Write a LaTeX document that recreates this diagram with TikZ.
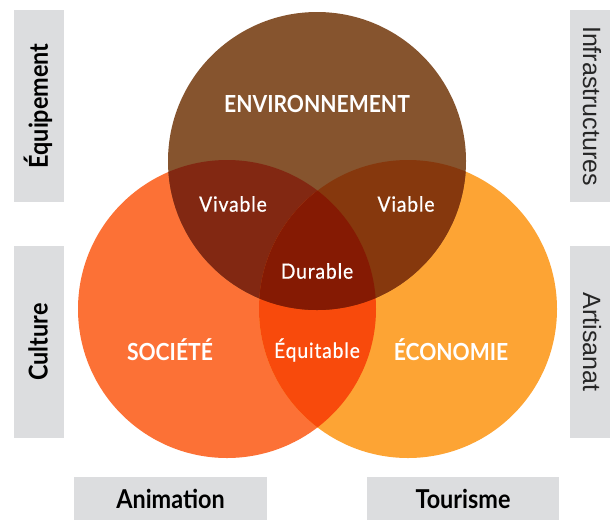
\documentclass[tikz,border=0pt]{standalone}
\usepackage{fontspec}
\setmainfont{Lato}
\newfontfamily\dinfont[FakeStretch=0.90]{Lato}
\newfontfamily\dinsmall[FakeStretch=0.92, LetterSpace=4, FakeBold=0.6]{Lato}
\newfontfamily\arialfont{Liberation Sans}
\definecolor{ctop}{RGB}{134,84,46}
\definecolor{cleft}{RGB}{252,113,54}
\definecolor{cright}{RGB}{253,164,52}
\definecolor{cviv}{RGB}{130,40,18}
\definecolor{cvia}{RGB}{134,56,13}
\definecolor{cequi}{RGB}{248,74,12}
\definecolor{cdur}{RGB}{133,26,3}
\definecolor{cbox}{RGB}{220,221,223}
\tikzset{
  sidebox/.style={fill=cbox, inner sep=0pt},
  bigtxt/.style={text=white, font=\dinfont\bfseries\fontsize{23.5}{26}\selectfont},
  smalltxt/.style={text=white, font=\dinsmall\fontsize{21}{24}\selectfont},
  dinlab/.style={text=black, font=\dinfont\bfseries\fontsize{26}{30}\selectfont},
  ariallab/.style={text=black!85, font=\arialfont\fontsize{25}{30}\selectfont},
}
\begin{document}
\begin{tikzpicture}[x=1pt,y=-1pt]
\useasboundingbox (0,0) rectangle (610,520);
\coordinate (T) at (317,161);
\coordinate (L) at (227,309);
\coordinate (R) at (408,309);
\def\rr{149}
% boxes
\node[sidebox, minimum width=50pt, minimum height=192pt] (bequip) at (39,106) {};
\node[sidebox, minimum width=40pt, minimum height=192pt] (binfra) at (590,106) {};
\node[sidebox, minimum width=50pt, minimum height=192pt] (bcult) at (39,342) {};
\node[sidebox, minimum width=40pt, minimum height=192pt] (bartis) at (590,342) {};
\node[sidebox, minimum width=193pt, minimum height=43pt] (banim) at (170.5,498.5) {};
\node[sidebox, minimum width=192pt, minimum height=43pt] (btour) at (463,498.5) {};
% circles
\fill[cleft] (L) circle (\rr);
\fill[cright] (R) circle (\rr);
\fill[ctop] (T) circle (\rr);
\begin{scope}
  \clip (L) circle (\rr);
  \fill[cviv] (T) circle (\rr);
  \fill[cequi] (R) circle (\rr);
\end{scope}
\begin{scope}
  \clip (T) circle (\rr);
  \fill[cvia] (R) circle (\rr);
\end{scope}
\begin{scope}
  \clip (T) circle (\rr);
  \clip (L) circle (\rr);
  \fill[cdur] (R) circle (\rr);
\end{scope}
% labels
\node[bigtxt] (env) at (317,104) {ENVIRONNEMENT};
\node[bigtxt] (soc) at (170,350) {SOCIÉTÉ};
\node[bigtxt] (eco) at (451,350) {ÉCONOMIE};
\node[smalltxt] (viv) at (233,204) {Vivable};
\node[smalltxt] (via) at (406,204) {Viable};
\node[smalltxt] (dur) at (317,271) {Durable};
\node[smalltxt] (equ) at (317,350) {Équitable};
\node[dinlab, rotate=90] (tequip) at (38,106) {Équipement};
\node[dinlab, rotate=90] (tcult) at (38,342) {Culture};
\node[ariallab, rotate=-90] (tinfra) at (592,106) {Infrastructures};
\node[ariallab, rotate=-90] (tartis) at (592,342) {Artisanat};
\node[dinlab] (tanim) at (banim) {Animation};
\node[dinlab] (ttour) at (btour) {Tourisme};
\end{tikzpicture}
\end{document}
